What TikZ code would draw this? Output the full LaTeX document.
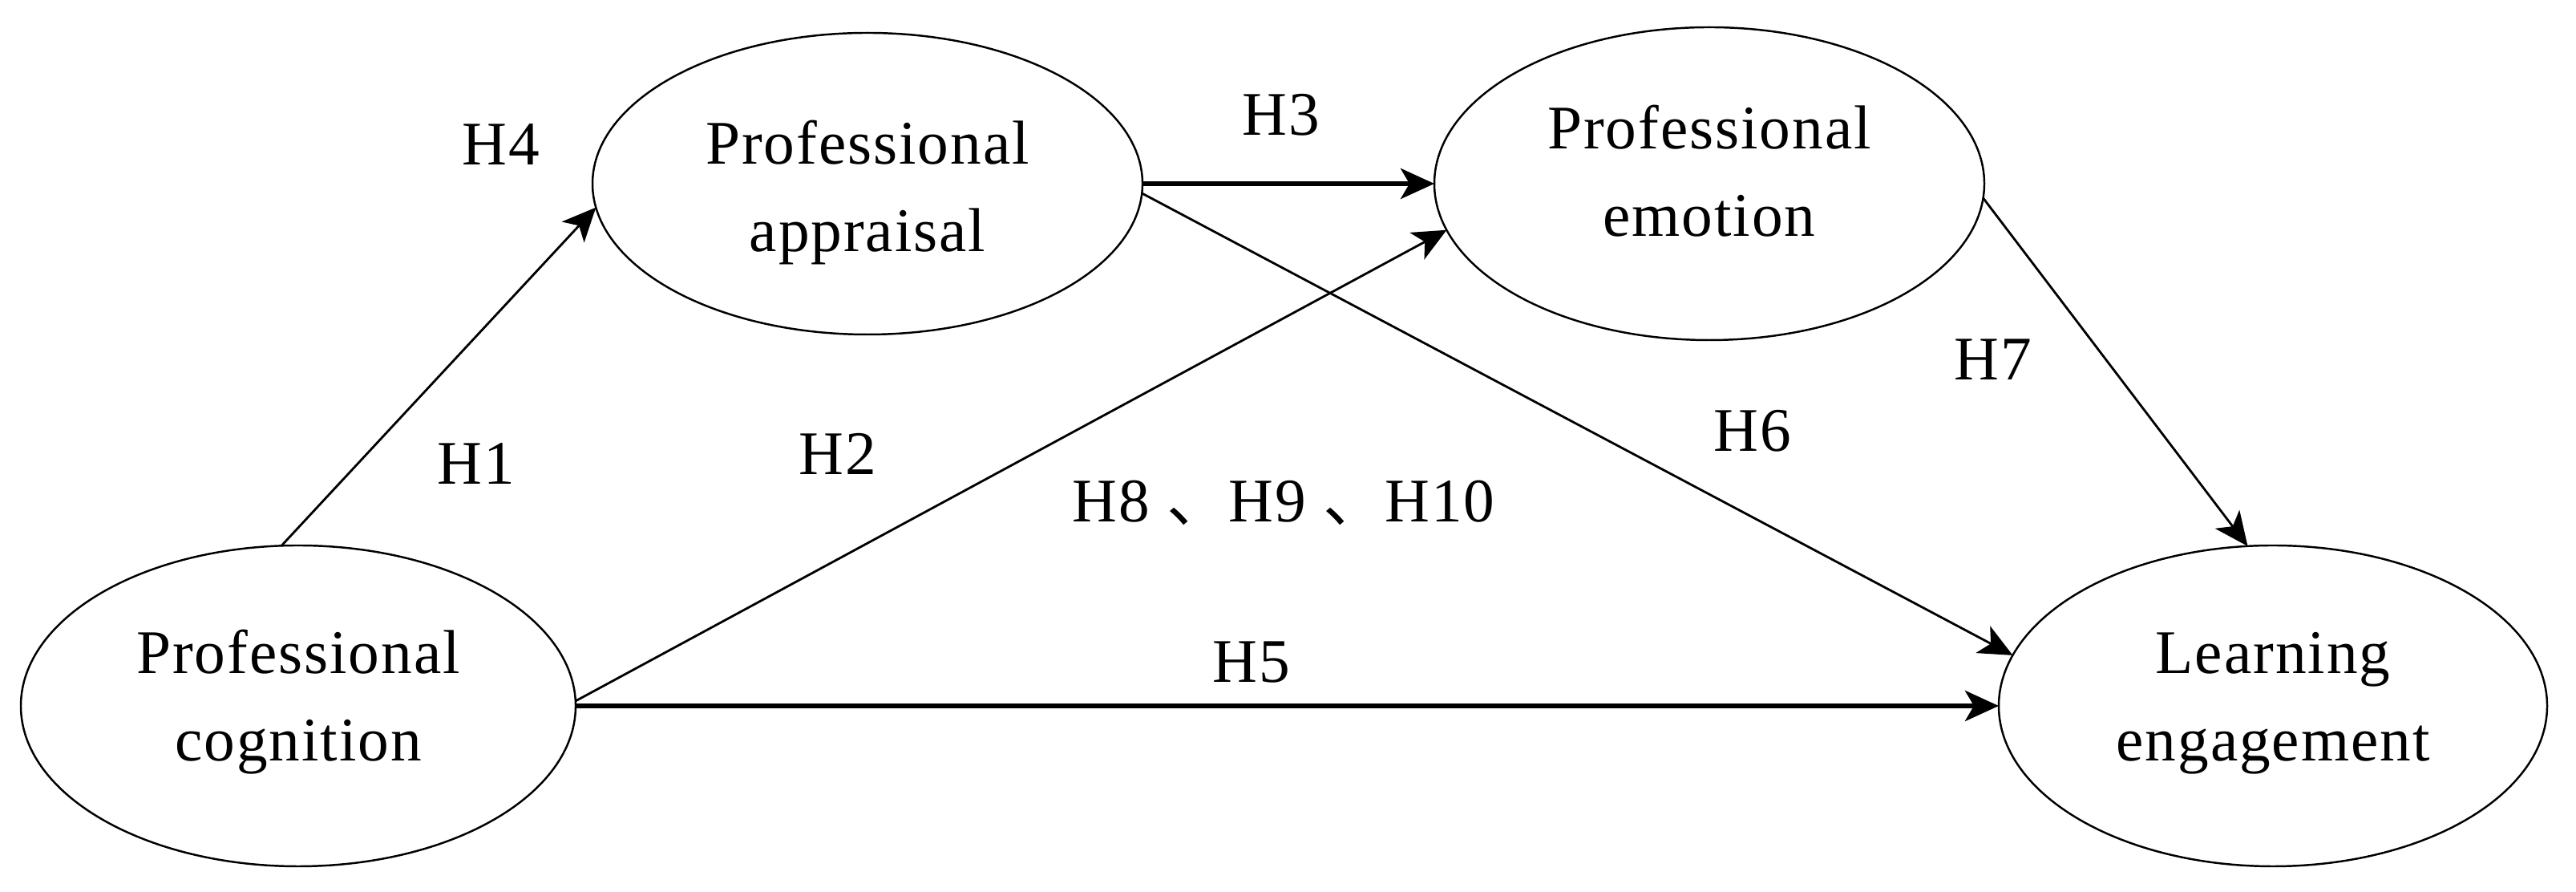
\documentclass[tikz,border=0pt]{standalone}
\usepackage{fontspec}
\setmainfont{Liberation Serif}[LetterSpace=2.5]
\newfontfamily\cjk{Noto Sans CJK SC}
\usetikzlibrary{arrows.meta,shapes.geometric}
\tikzset{
  lat/.style={ellipse, draw, line width=0.7pt, inner sep=0pt, outer sep=0pt,
    minimum width=6.86cm, minimum height=3.8cm},
  conn/.style={line width=0.8pt, -{Stealth[length=4.2mm, width=3.8mm, inset=1.1mm]}},
  hconn/.style={conn, line width=1.7pt},
  hlab/.style={inner sep=0pt, anchor=center},
}
\newcommand{\twoline}[3]{\raisebox{#1}[\height][\depth]{\begin{tabular}{@{}c@{}}#2\\#3\end{tabular}}}
\begin{document}
\begin{tikzpicture}[font=\fontsize{22}{31}\selectfont]
\useasboundingbox (0,0) rectangle (32.13,11.12);
\node[lat, minimum width=6.92cm, minimum height=4.0cm] (cog) at (3.72,2.32) {\twoline{0.8mm}{Professional}{cognition}};
\node[lat, minimum height=3.76cm] (app) at (10.82,8.83) {\twoline{-0.8mm}{Professional}{appraisal}};
\node[lat, minimum height=3.9cm] (emo) at (21.32,8.83) {\twoline{1.1mm}{Professional}{emotion}};
\node[lat, minimum width=6.84cm, minimum height=4.0cm] (le) at (28.35,2.32) {\twoline{0.8mm}{Learning}{engagement}};

\draw[conn] (cog.96) -- (app.185);
\draw[conn] (cog.1) -- (emo.190);
\draw[hconn] (app.east) -- (emo.west);
\draw[hconn] (cog.east) -- (le.west);
\draw[conn] (app.-2) -- (le.169);
\draw[conn] (emo.-3) -- (le.99);

\node[hlab] (h4) at (6.25,9.32) {H4};
\node[hlab] (h3) at (15.98,9.69) {H3};
\node[hlab] (h1) at (5.94,5.34) {H1};
\node[hlab] (h2) at (10.45,5.46) {H2};
\node[hlab] (h8) at (16.01,4.85) {H8 {\cjk 、}H9 {\cjk 、}H10};
\node[hlab] (h6) at (21.86,5.75) {H6};
\node[hlab] (h5) at (15.61,2.86) {H5};
\node[hlab] (h7) at (24.86,6.64) {H7};
\end{tikzpicture}
\end{document}
